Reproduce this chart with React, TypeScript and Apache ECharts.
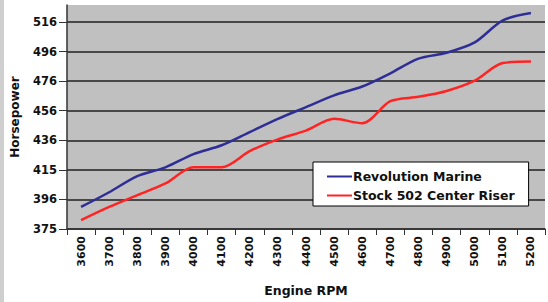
import React, { useEffect, useRef } from "react";
import * as echarts from "echarts";

const rpmCategories = ["3600","3700","3800","3900","4000","4100","4200","4300","4400","4500","4600","4700","4800","4900","5000","5100","5200"];
const revolutionMarine = [390, 400, 411, 417, 426, 432, 441, 450, 458, 466, 472, 481, 491, 495, 502, 517, 522];
const stockRiser = [381, 390, 398, 406, 417, 417, 428, 436, 442, 450, 447, 462, 465, 469, 476, 488, 489];
const yTickLabels = ["375", "396", "415", "436", "456", "476", "496", "516"];
const Y_MIN = 375;
const Y_STEP = 20.14;
const Y_MAX = 527.5;

export default function App() {
  const ref = useRef<HTMLDivElement>(null);
  useEffect(() => {
    if (!ref.current) return;
    const chart = echarts.init(ref.current, null, { renderer: "svg" });
    const font = "'DejaVu Sans', Verdana, sans-serif";
    chart.setOption({
      animation: false,
      backgroundColor: "#ffffff",
      textStyle: { fontFamily: font },
      grid: {
        left: 67, right: 3, top: 5, bottom: 67,
        show: true, backgroundColor: "#c0c0c0", borderWidth: 0,
      },
      legend: {
        orient: "vertical",
        left: 313, top: 162,
        backgroundColor: "#ffffff",
        borderColor: "#000000", borderWidth: 1,
        padding: [8, 14, 4, 14],
        itemGap: 6,
        itemWidth: 25, itemHeight: 2,
        icon: "rect",
        textStyle: { fontSize: 12.5, fontWeight: "bold", color: "#111", fontFamily: font, padding: [0, 0, 0, -4] },
        data: ["Revolution Marine", "Stock 502 Center Riser"],
      },
      xAxis: {
        type: "category",
        data: rpmCategories,
        boundaryGap: true,
        name: "Engine RPM",
        nameLocation: "middle",
        nameGap: 55,
        nameTextStyle: { fontSize: 12.5, fontWeight: "bold", color: "#111", fontFamily: font },
        axisLine: { lineStyle: { color: "#333", width: 1.5 } },
        axisTick: { show: true, length: 6, lineStyle: { color: "#333" } },
        axisLabel: { rotate: 90, margin: 7, fontSize: 11, fontWeight: "bold", color: "#111", fontFamily: font },
        splitLine: { show: false },
      },
      yAxis: {
        type: "value",
        min: Y_MIN, max: Y_MAX, interval: Y_STEP,
        name: "Horsepower",
        nameLocation: "middle",
        nameGap: 46,
        nameRotate: 90,
        nameTextStyle: { fontSize: 12, fontWeight: "bold", color: "#111", fontFamily: font },
        axisLine: { show: true, lineStyle: { color: "#333", width: 1.5 } },
        axisTick: { show: true, length: 8, lineStyle: { color: "#333" } },
        axisLabel: {
          margin: 10, fontSize: 11.5, fontWeight: "bold", color: "#111", fontFamily: font,
          showMaxLabel: false,
          formatter: (v: number) => {
            const i = Math.round((v - Y_MIN) / Y_STEP);
            return Math.abs(v - (Y_MIN + i * Y_STEP)) < 0.01 ? (yTickLabels[i] ?? "") : "";
          },
        },
        splitLine: { show: true, showMaxLine: false, lineStyle: { color: "#484848", width: 2 } },
      },
      series: [
        {
          name: "Revolution Marine",
          type: "line",
          data: revolutionMarine,
          smooth: 0.3,
          symbol: "none",
          color: "#2e2e96",
          lineStyle: { color: "#2e2e96", width: 2.5 },
        },
        {
          name: "Stock 502 Center Riser",
          type: "line",
          data: stockRiser,
          smooth: 0.3,
          symbol: "none",
          color: "#ff2424",
          lineStyle: { color: "#ff2424", width: 2.5 },
        },
      ],
      graphic: [
        { type: "rect", left: 0, top: 0, shape: { width: 4, height: 302 }, style: { fill: "#cfcfcf" } },
      ],
    });
    return () => chart.dispose();
  }, []);
  return (
    <div ref={ref} style={{ position: "fixed", left: 0, top: 0, width: 548, height: 302 }} />
  );
}
